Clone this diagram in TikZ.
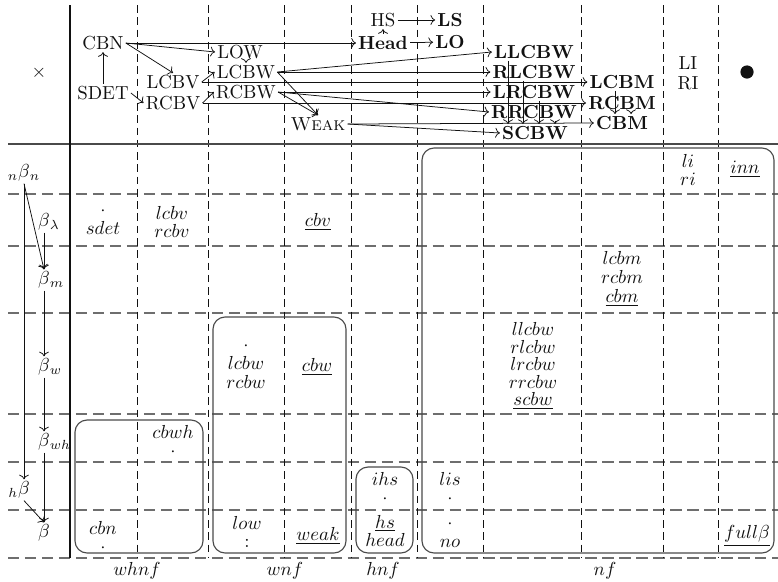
\documentclass[tikz,border=0pt]{standalone}
\usepackage{xcolor}
\definecolor{Ink}{HTML}{111111}
\definecolor{Rule}{HTML}{6E6E6E}
\definecolor{Frame}{HTML}{4A4A4A}
\usetikzlibrary{arrows.meta}
\tikzset{
  rule/.style={inner sep=1pt,text=Ink},
  rulebf/.style={rule,font=\bfseries},
  entry/.style={align=center,inner sep=1pt,text=Ink,font=\fontsize{10pt}{10pt}\selectfont},
  arrow/.style={-{To},line width=.4pt,draw=Ink},
  hgrid/.style={draw=Rule,line width=.6pt,dash pattern=on 6pt off 3pt},
  vgrid/.style={draw=Ink,line width=.4pt,dash pattern=on 4pt off 2.5pt},
  area/.style={draw=Frame,line width=.6pt,rounded corners=6.4pt},
  beta/.style={inner sep=1pt,text=Ink}
}

\begin{document}
\begin{tikzpicture}[x=0.53pt,y=-0.53pt]
\useasboundingbox (0,0) rectangle (778,581);

\foreach \y in {194,246,313,414,462,510,558}
  \draw[hgrid] (8,\y) -- (778,\y);
\foreach \x in {137,208,284,351,417,483,581,663,718}
  \draw[vgrid] (\x,5) -- (\x,557);
\draw[draw=Frame,line width=1.2pt] (8,144) -- (778,144);
\draw[draw=Ink,line width=1pt] (70,5) -- (70,558);

\draw[area] (75,420) rectangle (203,553);
\draw[area] (213,317) rectangle (346,553);
\draw[area] (356,467) rectangle (413,553);
\draw[area] (422,148) rectangle (774,553);

% header: the reduction systems
\node[rule] (cross) at (39,73) {$\times$};
\node[rule] (CBN) at (103,43) {CBN};
\node[rule] (SDET) at (103,93) {SDET};
\node[rule] (LCBV) at (173,82) {LCBV};
\node[rule] (RCBV) at (173,103) {RCBV};
\node[rule] (LOW) at (240,52) {LOW};
\node[rule] (LCBW) at (246,72) {LCBW};
\node[rule] (RCBW) at (246,92) {RCBW};
\node[rule] (WEAK) at (318,124) {\textsc{Weak}};
\node[rule] (HS) at (383,20) {HS};
\node[rulebf] (HEAD) at (383,43) {Head};
\node[rulebf] (LS) at (450,20) {LS};
\node[rulebf] (LO) at (450,42) {LO};
\node[rulebf] (LLCBW) at (534,52) {LLCBW};
\node[rulebf] (RLCBW) at (534,72) {RLCBW};
\node[rulebf] (LRCBW) at (534,92) {LRCBW};
\node[rulebf] (RRCBW) at (534,112) {RRCBW};
\node[rulebf] (SCBW) at (535,133) {SCBW};
\node[rulebf] (LCBM) at (622,82) {LCBM};
\node[rulebf] (RCBM) at (622,103) {RCBM};
\node[rulebf] (CBM) at (622,123) {CBM};
\node[rule,align=center,font=\fontsize{10pt}{10.6pt}\selectfont] (LIRI) at (688,73) {LI\\RI};
\node[circle,fill=Ink,inner sep=0pt,minimum size=7pt] (DOT) at (747,72) {};

\draw[arrow] (SDET) -- (CBN);
\draw[arrow] (CBN.east) -- (HEAD.west);
\draw[arrow] (CBN.east) -- (LOW.west);
\draw[arrow] (CBN.east) -- (LCBV.north);
\draw[arrow] (SDET.east) -- (RCBV.west);
\draw[arrow] (LCBV.east) -- (LCBW.west);
\draw[arrow] (RCBV.east) -- (RCBW.west);
\draw[arrow] (LOW.south -| LCBW.north) -- (LCBW.north);
\draw[arrow] (LCBV.east) -- (LCBM.west);
\draw[arrow] (RCBV.east) -- (RCBM.west);
\draw[arrow] (LCBW.east) -- (LLCBW.west);
\draw[arrow] (LCBW.east) -- (RLCBW.west);
\draw[arrow] (LCBW.east) -- (WEAK.north);
\draw[arrow] (RCBW.east) -- (LRCBW.west);
\draw[arrow] (RCBW.east) -- (RRCBW.west);
\draw[arrow] (RCBW.east) -- (WEAK.north);
\draw[arrow] (WEAK.east) -- (CBM.west);
\draw[arrow] (WEAK.east) -- (SCBW.west);
\draw[arrow] (HEAD) -- (HS);
\draw[arrow] (HS) -- (LS);
\draw[arrow] (HEAD) -- (LO);

\coordinate (s1) at ([xshift=-14.3pt]SCBW.north);
\coordinate (s2) at ([xshift=-6.4pt]SCBW.north);
\coordinate (s3) at ([xshift=2.1pt]SCBW.north);
\coordinate (s4) at ([xshift=10.6pt]SCBW.north);
\draw[arrow] (s1 |- LLCBW.south) -- (s1);
\draw[arrow] (s2 |- RLCBW.south) -- (s2);
\draw[arrow] (s3 |- LRCBW.south) -- (s3);
\draw[arrow] (s4 |- RRCBW.south) -- (s4);
\coordinate (m1) at ([xshift=-3.7pt]CBM.north);
\coordinate (m2) at ([xshift=4.8pt]CBM.north);
\draw[arrow] (m1 |- LCBM.south) -- (m1);
\draw[arrow] (m2 |- RCBM.south) -- (m2);

% left column: the strategies
\node[beta] (nbn) at (24,173) {$\llap{$_n$}\beta\rlap{$_n$}$};
\node[beta] (bl) at (44,222) {$\beta\rlap{$_\lambda$}$};
\node[beta] (bm) at (44,280) {$\beta\rlap{$_m$}$};
\node[beta] (bw) at (44,367) {$\beta\rlap{$_w$}$};
\node[beta] (bwh) at (44,442) {$\beta\rlap{$_{wh}$}$};
\node[beta] (hb) at (24,490) {$\llap{$_h$}\beta$};
\node[beta] (b) at (44,533) {$\beta$};

\draw[arrow] (nbn.south) -- (bm.north);
\draw[arrow] (nbn.south) -- (hb.north);
\draw[arrow] (bl) -- (bm);
\draw[arrow] (bm) -- (bw);
\draw[arrow] (bw) -- (bwh);
\draw[arrow] (bwh) -- (b);
\draw[arrow] (hb.south) -- (b.north);

% cells
\node[entry] (sdet) at (103,221) {$\cdot$\\$sdet$};
\node[entry] (lcbv) at (172,222) {$lcbv$\\$rcbv$};
\node[entry] (cbv) at (318,222) {$\underline{cbv}$};
\node[entry] (liri) at (688,170) {$li$\\$ri$};
\node[entry] (inn) at (745,169) {$\underline{inn}$};
\node[entry] (lcbm) at (622,279) {$lcbm$\\$rcbm$\\$\underline{cbm}$};
\node[entry] (lcbw) at (246,365) {$\cdot$\\$lcbw$\\$rcbw$};
\node[entry] (cbw) at (317,367) {$\underline{cbw}$};
\node[entry,font=\fontsize{10pt}{9.2pt}\selectfont] (llcbw) at (533,366)
  {$llcbw$\\$rlcbw$\\$lrcbw$\\$rrcbw$\\$\underline{scbw}$};
\node[entry] (cbwh) at (173,441) {$cbwh$\\$\cdot$};
\node[entry] (ihs) at (385,488) {$ihs$\\$\cdot$};
\node[entry] (lis) at (450,488) {$lis$\\$\cdot$};
\node[entry] (cbn) at (103,537) {$cbn$\\$\cdot$};
\node[entry] (low) at (247,532) {$low$\\$:$};
\node[entry] (weak) at (318,536) {$\underline{weak}$};
\node[entry] (head) at (385,531) {$\underline{hs}$\\$head$};
\node[entry] (no) at (450,534) {$\cdot$\\$no$};
\node[entry] (fullb) at (747,536) {$\underline{full\beta}$};

\node[entry] (whnf) at (137,571) {$whnf$};
\node[entry] (wnf) at (285,571) {$wnf$};
\node[entry] (hnf) at (383,571) {$hnf$};
\node[entry] (nf) at (605,571) {$nf$};
\end{tikzpicture}
\end{document}
